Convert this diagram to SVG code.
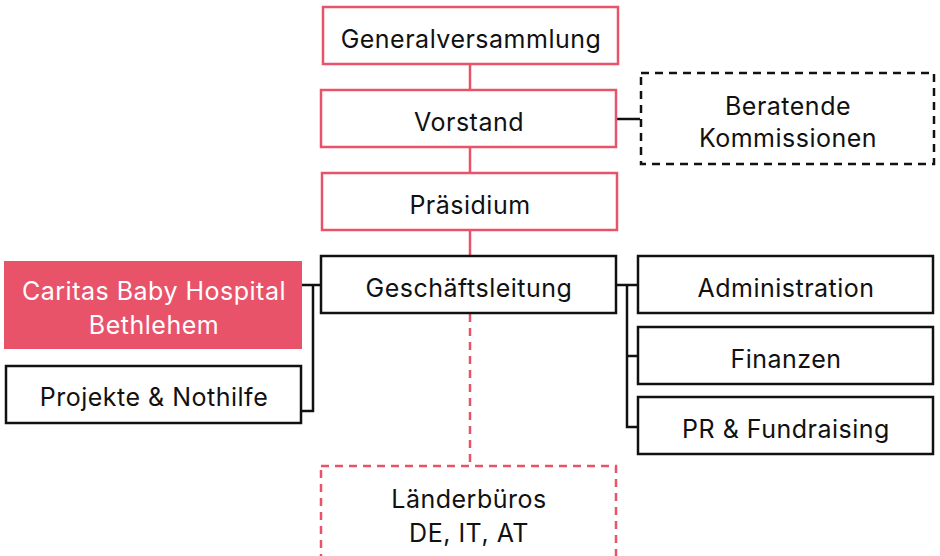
<svg xmlns="http://www.w3.org/2000/svg" width="940" height="556" viewBox="0 0 940 556">
<style>
.t{font-family:Inter,"Liberation Sans",sans-serif;font-size:25px;letter-spacing:0.5px;fill:#111;text-anchor:middle}
.w{fill:#fff}
.pk{fill:#fff;stroke:#e8536a;stroke-width:2.5}
.bk{fill:#fff;stroke:#111;stroke-width:2.5}
.pd{fill:#fff;stroke:#e8536a;stroke-width:2.5;stroke-dasharray:8 6}
.bd{fill:#fff;stroke:#111;stroke-width:2.5;stroke-dasharray:8 6}
.lp{fill:none;stroke:#e8536a;stroke-width:2.5}
.lb{fill:none;stroke:#111;stroke-width:2.5}
</style>
<rect width="940" height="556" fill="#fff"/>
<g id="connectors">
<path class="lp" d="M470 64V90M470 147V173M470 230V256"/>
<path class="lb" d="M616 119H640"/>
<path class="lb" d="M302 285H321M313 285V411H302"/>
<path class="lb" d="M616 285H638M627 285V427H638M627 356H638"/>
<path class="lp" d="M470 314V466" stroke-dasharray="8 6"/>
</g>
<g id="generalversammlung"><rect class="pk" x="323" y="7" width="295" height="57"/><text class="t" x="471" y="48">Generalversammlung</text></g>
<g id="vorstand"><rect class="pk" x="321" y="90" width="295" height="57"/><text class="t" x="469" y="131">Vorstand</text></g>
<g id="praesidium"><rect class="pk" x="322" y="173" width="295" height="57"/><text class="t" x="470" y="214">Präsidium</text></g>
<g id="beratende"><rect class="bd" x="641" y="73" width="293" height="91"/><text class="t" x="788" y="115">Beratende</text><text class="t" x="788" y="147">Kommissionen</text></g>
<g id="caritas"><rect x="4" y="261" width="298" height="88" fill="#e8536a"/><text class="t w" x="154" y="300">Caritas Baby Hospital</text><text class="t w" x="154" y="334">Bethlehem</text></g>
<g id="projekte"><rect class="bk" x="6" y="366" width="295" height="57"/><text class="t" x="154" y="406">Projekte &amp; Nothilfe</text></g>
<g id="geschaeftsleitung"><rect class="bk" x="321" y="256" width="295" height="57"/><text class="t" x="469" y="297">Geschäftsleitung</text></g>
<g id="administration"><rect class="bk" x="638" y="256" width="295" height="57"/><text class="t" x="786" y="297">Administration</text></g>
<g id="finanzen"><rect class="bk" x="638" y="327" width="295" height="57"/><text class="t" x="786" y="368">Finanzen</text></g>
<g id="pr"><rect class="bk" x="638" y="397" width="295" height="57"/><text class="t" x="786" y="438">PR &amp; Fundraising</text></g>
<g id="laenderbueros"><rect class="pd" x="321" y="466" width="295" height="110"/><text class="t" x="469" y="508">Länderbüros</text><text class="t" x="469" y="542">DE, IT, AT</text></g>
</svg>
